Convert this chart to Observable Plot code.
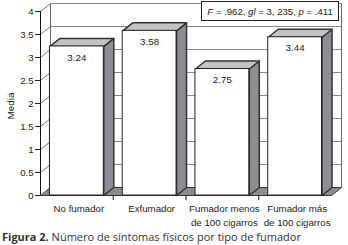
<!DOCTYPE html>
<html><head><meta charset="utf-8">
<script src="https://cdn.jsdelivr.net/npm/d3@7"></script>
<script src="https://cdn.jsdelivr.net/npm/@observablehq/plot@0.6"></script>
<style>
body{margin:0;background:#fff;}
#chart{position:relative;width:348px;}
#cap{font-family:"Open Sans",sans-serif;font-size:11px;color:#333;height:17px;line-height:17px;padding-left:2px;white-space:nowrap;}
</style>
</head><body><div id="chart"></div><div id="cap"></div>
<script>
const categories = ["No fumador","Exfumador","Fumador menos\nde 100 cigarros","Fumador más\nde 100 cigarros"];
const values = [3.24, 3.58, 2.75, 3.44];
const yTicks = [0, 0.5, 1, 1.5, 2, 2.5, 3, 3.5, 4];
const yLabel = "Media";
const statParts = [["F", true], [" = .962, ", false], ["gl", true], [" = 3, 235, ", false], ["p", true], [" = .411", false]];
const captionBold = "Figura 2.";
const captionText = " Número de síntomas físicos por tipo de fumador";

const DX = 0.1375, DY = 0.174, PAD = 0.13;
const bars = values.map((v, i) => ({i, v, a: i + PAD, b: i + 1 - PAD}));
const poly = (pts, k) => pts.map(([x, y]) => ({x, y, k}));
const topPts = bars.flatMap(d => poly([[d.a, d.v], [d.b, d.v], [d.b + DX, d.v + DY], [d.a + DX, d.v + DY], [d.a, d.v]], d.i));
const sidePts = bars.flatMap(d => poly([[d.b, 0], [d.b + DX, DY], [d.b + DX, d.v + DY], [d.b, d.v], [d.b, 0]], d.i));
const floorPts = poly([[0, 0], [4, 0], [4 + DX, DY], [DX, DY], [0, 0]], 0);

const plot = Plot.plot({
  width: 348, height: 228,
  marginLeft: 40, marginRight: 17, marginTop: 11, marginBottom: 33,
  style: {fontFamily: "Liberation Sans, Arial, sans-serif", fontSize: "9.6px", color: "#222", background: "white"},
  x: {domain: [0, 4], axis: null},
  y: {domain: [0, 4], ticks: yTicks, tickFormat: d => String(d), tickSize: 5, tickPadding: 2, label: null},
  marks: [
    Plot.line(floorPts, {x: "x", y: "y", fill: "#8c8c8c", stroke: "#333", strokeWidth: 1}),
    Plot.link(yTicks, {x1: 0, y1: d => d, x2: DX, y2: d => d + DY, stroke: "#777"}),
    Plot.link(yTicks.filter(t => t > 0), {x1: DX, x2: 4 + DX, y1: d => d + DY, y2: d => d + DY, stroke: "#888"}),
    Plot.link([DX, 4 + DX], {x1: d => d, x2: d => d, y1: DY, y2: 4 + DY, stroke: "#666"}),
    Plot.ruleX([0], {y1: 0, y2: 4, stroke: "#111"}),
    Plot.ruleX([1, 2, 3], {y1: 0, y2: -0.11, stroke: "#111"}),
    Plot.line(sidePts, {x: "x", y: "y", z: "k", fill: "#8b8e92", stroke: "#333"}),
    Plot.line(topPts, {x: "x", y: "y", z: "k", fill: "#c3c3c3", stroke: "#333"}),
    Plot.rect(bars, {x1: "a", x2: "b", y1: 0, y2: "v", fill: "white", stroke: "#222"}),
    Plot.text(bars, {x: d => (d.a + d.b) / 2, y: "v", text: d => d.v.toFixed(2), dy: 11, fontSize: 9.8, fill: "#222"}),
    Plot.text(categories, {x: (d, i) => i + 0.5, y: 0, text: d => d, dy: 6, dx: 2, lineAnchor: "top", lineHeight: 1.5, fontSize: 9.7, fill: "#222"})
  ]
});
document.getElementById("chart").appendChild(plot);

const svg = d3.select(plot);
// y axis title
svg.append("text").attr("transform", "translate(14,106) rotate(-90)").attr("text-anchor", "middle")
  .attr("font-size", 9.8).attr("fill", "#222").text(yLabel);
// statistics annotation box
const g = svg.append("g");
g.append("rect").attr("x", 201.5).attr("y", 1.5).attr("width", 137).attr("height", 19)
  .attr("fill", "white").attr("stroke", "#222");
const t = g.append("text").attr("x", 270).attr("y", 14.5).attr("text-anchor", "middle")
  .attr("font-size", 9.6).attr("fill", "#222");
statParts.forEach(([s, it]) => t.append("tspan").attr("font-style", it ? "italic" : "normal").text(s));

const cap = document.getElementById("cap");
const b = document.createElement("b"); b.textContent = captionBold; cap.appendChild(b);
cap.appendChild(document.createTextNode(captionText));
</script>
</body></html>
